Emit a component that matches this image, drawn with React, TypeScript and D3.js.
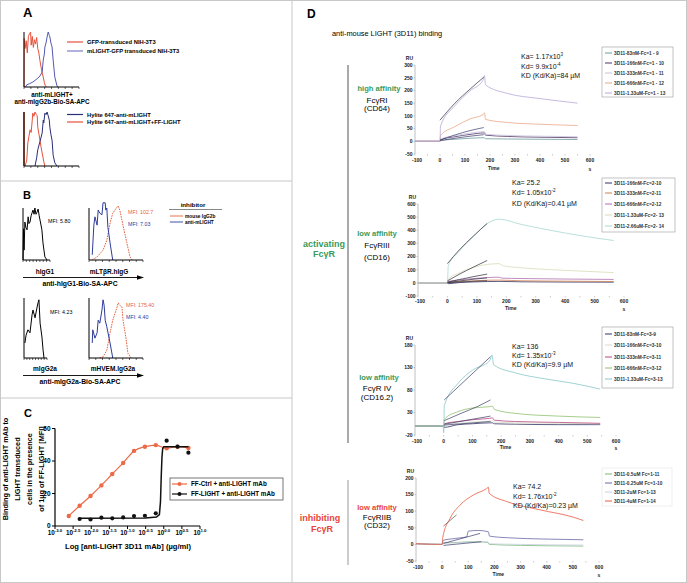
import React from 'react';
import * as d3 from 'd3';

const FONT = '"Liberation Sans", Arial, Helvetica, sans-serif';
const GREEN = '#3a9a5c';
const RED = '#e8453c';
const GRID = '#c8c8c8';

// ---------- Panel A ----------
const aLegend1 = ['GFP-transduced NIH-3T3', 'mLIGHT-GFP transduced NIH-3T3'];
const aLegend2 = ['Hylite 647-anti-mLIGHT', 'Hylite 647-anti-mLIGHT+FF-LIGHT'];
const aHist1Red = [[0,0],[0.3,88],[2,70],[4,84],[6,62],[8,92],[10,97],[12,100],[13,76],[15,92],[17,72],[19,86],[21,78],[23,90],[25,70],[27,62],[29,48],[31,36],[33,26],[35,18],[37,8],[39,2],[41,0]];
const aHist1Blue = [[3,0],[5,4],[10,6],[16,9],[20,12],[25,16],[29,20],[33,27],[35,49],[37,60],[38,73],[40,80],[42,91],[44,100],[46,94],[47,91],[49,80],[51,73],[53,49],[56,18],[60,2],[62,0]];
const aHist2Red = [[2,0],[5,11],[7,43],[9,55],[11,67],[13,62],[15,85],[16,98],[18,92],[20,100],[22,96],[24,93],[25,72],[27,60],[29,48],[31,35],[33,24],[36,8],[38,0]];
const aHist2Blue = [[20,0],[23,15],[25,30],[29,45],[33,61],[35,85],[36,80],[38,98],[40,95],[42,100],[44,93],[46,85],[47,72],[49,58],[51,48],[53,20],[56,6],[60,0]];

// ---------- Panel B ----------
const bInhibitor = ['mouse IgG2b', 'anti-mLIGHT'];
const bHIgG1 = [[0,0],[2,60],[4,19],[7,73],[11,62],[15,58],[19,83],[22,70],[26,73],[30,85],[33,90],[37,96],[41,88],[44,100],[48,88],[52,92],[56,98],[60,85],[63,77],[70,58],[74,33],[81,6],[89,0]];
const bLtbrBlue = [[6,10],[9,67],[11,83],[15,67],[17,96],[20,90],[24,87],[26,110],[30,110],[31,96],[33,100],[35,63],[39,33],[43,6],[44,0]];
const bLtbrRed = [[6,0],[15,6],[26,19],[33,38],[39,71],[44,90],[52,102],[54,104],[57,96],[63,67],[70,33],[76,6],[80,0]];
const bMIgG2a = [[4,25],[9,38],[17,47],[26,42],[35,72],[39,80],[48,67],[57,85],[61,92],[65,97],[70,58],[78,35],[83,13],[87,0]];
const bHvemBlue = [[6,25],[7,47],[11,33],[15,42],[17,63],[20,58],[24,80],[26,97],[28,88],[30,63],[33,52],[39,25],[43,5],[44,0]];
const bHvemRed = [[20,0],[26,2],[33,13],[39,42],[44,63],[52,85],[54,92],[57,88],[61,85],[63,63],[69,30],[72,8],[78,0]];
const bMfi = ['MFI: 5.80', 'MFI: 102.7', 'MFI: 7.03', 'MFI: 4.23', 'MFI: 175.40', 'MFI: 4.40'];

// ---------- Panel C ----------
const cCtrlLog = [-2.62,-2.32,-2.02,-1.72,-1.42,-1.12,-0.82,-0.52,-0.22,0.08,0.38,0.68];
const cCtrl = [6.2,12.5,18.5,25,32,38.8,46.2,48.8,49.8,47.8,48.8,48];
const cLightLog = [-2.32,-2.02,-1.72,-1.42,-1.12,-0.82,-0.52,-0.22,0.08,0.38,0.68];
const cLight = [4.3,4.0,5.1,4.7,5.3,6.1,6.3,7.8,52.5,48.8,45.1];
const cLightFitLog = [-2.32,-0.5,-0.2,-0.12,-0.09,-0.07,-0.05,-0.03,0,0.68];
const cLightFit = [4.8,4.9,5.5,7,15,30,42,47.5,48.8,48.8];
const cXTicks = [-3,-2.5,-2,-1.5,-1,-0.5,0,0.5,1];
const cXTickLabels = ['-3.0','-2.5','-2.0','-1.5','-1.0','-0.5','0.0','0.5','1.0'];
const cYTicks = [0,20,40,60];
const cLegend = ['FF-Ctrl + anti-LIGHT mAb', 'FF-LIGHT + anti-LIGHT mAb'];
const cYLabel = ['Binding of anti-LIGHT mAb to', 'LIGHT transduced', 'cells in the presence', 'of 1µg of FF-LIGHT [MFI]'];

// ---------- Panel D ----------
const timeTicks = [-100,0,100,200,300,400,500,600];
const s1YTicks = [-50,0,50,100,150,200,250,300];
const s2YTicks = [-100,0,100,200,300,400,500,600];
const s3YTicks = [-20,30,80,130,180];
const s4YTicks = [-50,0,50,100,150,200];

const s1Legend = ['3D11-83nM-Fc=1 - 9','3D11-166nM-Fc=1 - 10','3D11-333nM-Fc=1 - 11','3D11-666nM-Fc=1 - 12','3D11-1.33uM-Fc=1 - 13'];
const s2Legend = ['3D11-166nM-Fc=2-10','3D11-333nM-Fc=2-11','3D11-666nM-Fc=2-12','3D11-1.33uM-Fc=2- 13','3D11-2.66uM-Fc=2- 14'];
const s3Legend = ['3D11-83nM-Fc=3-9','3D11-166nM-Fc=3-10','3D11-333nM-Fc=3-11','3D11-666nM-Fc=3-12','3D11-1.33uM-Fc=3-13'];
const s4Legend = ['3D11-0.5uM Fc=1-11','3D11-0.25uM Fc=1-10','3D11-2uM Fc=1-13','3D11-4uM Fc=1-14'];

const s1Colors = ['#6a9a9a','#553366','#c4c4dc','#e8a888','#b8a8d8'];
const s2Colors = ['#333366','#d08050','#b070b0','#d8dcb8','#a8d8d0'];
const s3Colors = ['#333366','#d4dcc8','#b84880','#90c070','#88c8c8'];
const s4Colors = ['#78b878','#6868a8','#c8d0e0','#e85a40'];

const s1Kin = [['Ka= 1.17x10','3'],['Kd= 9.9x10','-4'],['KD (Kd/Ka)=84 µM','']];
const s2Kin = [['Ka= 25.2',''],['Kd= 1.05x10','-2'],['KD (Kd/Ka)=0.41 µM','']];
const s3Kin = [['Ka= 136',''],['Kd= 1.35x10','-3'],['KD (Kd/Ka)=9.9 µM','']];
const s4Kin = [['Ka= 74.2',''],['Kd= 1.76x10','-2'],['KD (Kd/Ka)=0.23 µM','']];

// sensorgram 1 (FcgRI)
const s1c1 = [[-100,0],[0,0],[2,3],[60,8],[120,12],[178,14],[182,10],[270,9],[400,8],[550,7]];
const s1c2 = [[-100,0],[0,0],[2,6],[60,18],[120,27],[178,33],[182,24],[270,19],[400,16],[550,14]];
const s1c3 = [[-100,0],[0,0],[2,8],[60,22],[120,32],[178,38],[182,28],[270,23],[400,20],[550,18]];
const s1c4 = [[-100,0],[0,0],[2,22],[60,58],[120,88],[172,105],[178,112],[182,86],[270,74],[400,67],[550,62]];
const s1c5 = [[-100,0],[0,0],[2,60],[60,140],[120,198],[172,240],[178,258],[182,222],[270,188],[400,168],[550,150]];
const s1f5 = [[0,83],[60,150],[120,205],[175,252]];
const s1f3 = [[0,5],[60,25],[120,42],[175,54]];
const s1f2 = [[0,3],[60,12],[120,20],[175,26]];

// sensorgram 2 (FcgRIII)
const s2c1 = [[-100,0],[0,0],[3,-6],[40,2],[90,7],[135,10],[175,11],[250,8],[400,6],[565,5]];
const s2c2 = [[-100,0],[0,0],[3,4],[40,10],[90,16],[135,20],[175,21],[250,16],[400,13],[565,10]];
const s2c3 = [[-100,0],[0,0],[3,10],[40,22],[90,33],[135,40],[175,43],[185,36],[250,33],[400,29],[565,26]];
const s2c4 = [[-100,0],[0,0],[3,25],[40,75],[90,118],[135,140],[175,146],[190,130],[250,115],[400,95],[565,78]];
const s2c5 = [[-100,0],[0,0],[3,130],[40,240],[90,355],[135,450],[175,485],[250,445],[350,400],[450,360],[565,322]];
const s2f5 = [[0,146],[40,250],[90,360],[135,452]];
const s2f4 = [[0,15],[40,65],[90,122],[135,170]];
const s2f3 = [[0,5],[40,25],[90,48],[135,67]];
const s2f2 = [[0,2],[40,14],[90,28],[135,38]];
const s2f1 = [[0,0],[40,6],[90,12],[135,16]];

// sensorgram 3 (FcgRIV)
const s3c1 = [[-100,0],[0,0],[2,-3],[50,3],[100,5],[160,7],[170,7],[176,5],[250,4],[400,3],[545,3]];
const s3c2 = [[-100,0],[0,0],[2,3],[50,6],[100,9],[160,11],[170,12],[176,9],[250,7],[400,6],[545,5]];
const s3c3 = [[-100,0],[0,0],[2,5],[50,10],[100,14],[160,17],[170,18],[176,13],[250,10],[400,8],[545,6]];
const s3c4 = [[-100,0],[0,0],[2,15],[50,32],[100,40],[160,43],[170,44],[176,37],[250,28],[400,22],[545,19]];
const s3c5 = [[-100,0],[-2,0],[0,-15],[2,45],[50,95],[100,124],[160,145],[168,158],[174,136],[250,118],[350,105],[450,95],[545,82]];
const s3f5 = [[2,58],[163,154]];
const s3f4 = [[2,12],[60,28],[120,44],[163,58]];
const s3f3 = [[2,4],[163,22]];
const s3f2 = [[2,2],[163,10]];

// sensorgram 4 (FcgRIIB)
const s4c1 = [[-100,2],[0,0],[3,5],[60,6],[120,8],[175,6],[180,0],[300,-3],[540,-5]];
const s4c2 = [[-100,2],[0,0],[3,12],[50,18],[94,23],[100,40],[140,42],[177,38],[181,25],[250,20],[400,16],[540,14]];
const s4c3 = [[-100,2],[0,0],[3,3],[60,5],[120,7],[175,8],[180,2],[300,0],[540,-2]];
const s4c4 = [[-100,2],[0,0],[2,20],[30,78],[68,118],[120,149],[170,168],[177,172],[180,154],[247,129],[375,104],[502,82],[540,72]];
const s4f4 = [[5,55],[55,89]];
const s4f2 = [[5,3],[145,33]];
const s4f1 = [[5,-3],[150,8]];

type Pts = number[][];

function Hist({ x0, y0, w, h, series, axisColor = '#000', axisW = 1 }: any) {
  const xs = d3.scaleLinear().domain([0, 100]).range([x0, x0 + w]);
  const ys = d3.scaleLinear().domain([0, 100]).range([y0, y0 - h]);
  const line = d3.line<number[]>().x(d => xs(d[0])).y(d => ys(d[1]));
  const ticks = d3.range(0, 100.01, 12.5);
  return (
    <g>
      {series.map((s: any, i: number) => (
        <path key={i} d={line(s.data) || ''} fill="none" stroke={s.color} strokeWidth={s.w ?? 1} strokeDasharray={s.dash} />
      ))}
      <line x1={x0} y1={y0 - h} x2={x0} y2={y0} stroke={axisColor} strokeWidth={axisW} />
      <line x1={x0} y1={y0} x2={x0 + w} y2={y0} stroke="#000" strokeWidth={1} />
      {ticks.map(t => <line key={t} x1={xs(t)} x2={xs(t)} y1={y0} y2={y0 + 2} stroke="#000" strokeWidth={0.6} />)}
    </g>
  );
}

function Sensor({ cfg }: any) {
  const xs = d3.scaleLinear().domain([-100, 600]).range(cfg.xr);
  const ys = d3.scaleLinear().domain(cfg.yd).range(cfg.yr);
  const line = d3.line<number[]>().x(d => xs(d[0])).y(d => ys(d[1])).curve(d3.curveMonotoneX);
  const ax = cfg.xr[0];
  const minor = d3.range(-100, 601, 50);
  return (
    <g>
      <line x1={ax} x2={ax} y1={cfg.yr[0]} y2={cfg.yr[1]} stroke="#b0b0b0" strokeWidth={0.8} />
      {cfg.yTicks.map((t: number) => (
        <g key={t}>
          <line x1={ax - 1.5} x2={ax} y1={ys(t)} y2={ys(t)} stroke="#999" strokeWidth={0.5} />
          <text x={ax - 2.5} y={ys(t) + 1.8} fontSize={5} fontWeight="bold" textAnchor="end" fill="#222">{t}</text>
        </g>
      ))}
      <text x={ax - 2} y={cfg.yr[1] - 5} fontSize={5} fontWeight="bold" textAnchor="end" fill="#222">RU</text>
      {minor.map(t => <line key={t} x1={xs(t)} x2={xs(t)} y1={cfg.yr[0]} y2={cfg.yr[0] + 1.5} stroke="#999" strokeWidth={0.5} />)}
      {timeTicks.map(t => (
        <text key={t} x={xs(t) + (t === -100 ? 2 : 0)} y={cfg.labY} fontSize={5} fontWeight="bold" textAnchor="middle" fill="#222">{t}</text>
      ))}
      <text x={xs(215)} y={cfg.timeY} fontSize={5} fontWeight="bold" textAnchor="middle" fill="#222">Time</text>
      <text x={xs(600)} y={cfg.timeY + 1} fontSize={5} fontWeight="bold" textAnchor="middle" fill="#222">s</text>
      {cfg.series.map((s: Pts, i: number) => (
        <path key={i} d={line(s) || ''} fill="none" stroke={cfg.colors[i]} strokeWidth={0.8} />
      ))}
      {cfg.fits.map((f: any, i: number) => (
        <path key={'f' + i} d={line(f.pts) || ''} fill="none" stroke={f.color} strokeWidth={0.7} />
      ))}
      {cfg.kin.map((k: string[], i: number) => (
        <text key={'k' + i} x={cfg.kinX} y={cfg.kinY[i]} fontSize={7} fill="#111">
          {k[0]}{k[1] ? <tspan dy={-3} fontSize={4.5}>{k[1]}</tspan> : null}
        </text>
      ))}
      <rect x={cfg.legBox[0]} y={cfg.legBox[1]} width={cfg.legBox[2]} height={cfg.legBox[3]} fill="#fff" stroke={cfg.legStroke} strokeWidth={0.6} />
      {cfg.legText.map((t: string, i: number) => (
        <g key={'l' + i}>
          <line x1={605} x2={612} y1={cfg.legY[i]} y2={cfg.legY[i]} stroke={cfg.colors[i]} strokeWidth={1} />
          <text x={614} y={cfg.legY[i] + 1.7} fontSize={4.8} fontWeight="bold" fill="#333">{t}</text>
        </g>
      ))}
    </g>
  );
}

const FIT = '#2a2a3a';

export default function App() {
  const cx = d3.scaleLinear().domain([-3, 1]).range([55, 200]);
  const cy = d3.scaleLinear().domain([0, 60]).range([526, 428.5]);
  const cLine = d3.line<number[]>().x(d => cx(d[0])).y(d => cy(d[1])).curve(d3.curveMonotoneX);
  const ctrlPts = cCtrlLog.map((l, i) => [l, cCtrl[i]]);
  const lightPts = cLightLog.map((l, i) => [l, cLight[i]]);
  const lightFitPts = cLightFitLog.map((l, i) => [l, cLightFit[i]]);
  const C_RED = '#ec6a47';

  const s1 = { xr: [415, 590], yd: [-50, 300], yr: [154, 65], yTicks: s1YTicks, labY: 162, timeY: 170,
    kin: s1Kin, kinX: 521, kinY: [59, 69, 78], legBox: [602, 47, 71, 50], legY: [53, 63, 73, 83, 93], legText: s1Legend,
    legStroke: '#999', colors: s1Colors, series: [s1c1, s1c2, s1c3, s1c4, s1c5],
    fits: [{ pts: s1f5, color: FIT }, { pts: s1f3, color: '#3a3a6a' }, { pts: s1f2, color: '#3a3a6a' }] };
  const s2 = { xr: [418, 624], yd: [-100, 600], yr: [296, 204], yTicks: s2YTicks, labY: 303, timeY: 310,
    kin: s2Kin, kinX: 512, kinY: [185, 195, 206], legBox: [602, 178, 73, 54], legY: [183, 193, 204, 215, 226], legText: s2Legend,
    legStroke: '#999', colors: s2Colors, series: [s2c1, s2c2, s2c3, s2c4, s2c5],
    fits: [{ pts: s2f5, color: FIT }, { pts: s2f4, color: FIT }, { pts: s2f3, color: FIT }, { pts: s2f2, color: FIT }, { pts: s2f1, color: FIT }] };
  const s3 = { xr: [415, 616], yd: [-20, 180], yr: [435, 345], yTicks: s3YTicks, labY: 442.5, timeY: 449,
    kin: s3Kin, kinX: 512, kinY: [349, 358, 367], legBox: [602, 327, 71, 61], legY: [334, 345, 357, 368, 379], legText: s3Legend,
    legStroke: '#999', colors: s3Colors, series: [s3c1, s3c2, s3c3, s3c4, s3c5],
    fits: [{ pts: s3f5, color: '#3b3b66' }, { pts: s3f4, color: '#3b3b66' }, { pts: s3f3, color: '#3b3b66' }, { pts: s3f2, color: '#3b3b66' }] };
  const s4 = { xr: [416, 599], yd: [-50, 200], yr: [561, 478], yTicks: s4YTicks, labY: 568.5, timeY: 575.5,
    kin: s4Kin, kinX: 513, kinY: [489, 499, 508], legBox: [602, 468, 70, 38], legY: [474, 483, 492, 501], legText: s4Legend,
    legStroke: '#e4e4e4', colors: s4Colors, series: [s4c1, s4c2, s4c3, s4c4],
    fits: [{ pts: s4f4, color: '#555' }, { pts: s4f2, color: '#3a3a6a' }, { pts: s4f1, color: '#3a3a6a' }] };

  const A_RED = '#e8503a';
  const A_BLUE = '#5558b0';
  const NAVY = '#2b2f7a';
  const B_BLUE = '#2e3c9a';

  return (
    <svg width={687} height={583} viewBox="0 0 687 583" fontFamily={FONT}
      style={{ display: 'block', position: 'absolute', left: 0, top: 0, background: '#fff' }}>
      <rect x={0.5} y={0.5} width={686} height={582} fill="#fff" stroke={GRID} strokeWidth={1} />
      <line x1={292} x2={292} y1={0} y2={583} stroke={GRID} strokeWidth={1} />
      <line x1={0} x2={292} y1={181} y2={181} stroke={GRID} strokeWidth={1} />
      <line x1={0} x2={292} y1={398} y2={398} stroke={GRID} strokeWidth={1} />

      {/* ---------- Panel A ---------- */}
      <text x={23} y={17} fontSize={13} fontWeight="bold">A</text>
      <Hist x0={24} y0={87} w={55} h={55} series={[{ data: aHist1Red, color: A_RED }, { data: aHist1Blue, color: A_BLUE }]} />
      <text x={52} y={97} fontSize={6.3} fontWeight="bold" textAnchor="middle">anti-mLIGHT+</text>
      <text x={52} y={103.5} fontSize={6.3} fontWeight="bold" textAnchor="middle">anti-mIgG2b-Bio-SA-APC</text>
      {[A_RED, '#7c7cc8'].map((c, i) => (
        <g key={i}>
          <line x1={67} x2={83} y1={42 + i * 9} y2={42 + i * 9} stroke={c} strokeWidth={1.2} />
          <text x={87} y={44 + i * 9} fontSize={5.8} fontWeight="bold">{aLegend1[i]}</text>
        </g>
      ))}
      <Hist x0={24} y0={166} w={55} h={54} axisColor="#5a2418" axisW={1.8}
        series={[{ data: aHist2Red, color: A_RED }, { data: aHist2Blue, color: NAVY }]} />
      {[NAVY, A_RED].map((c, i) => (
        <g key={i}>
          <line x1={67} x2={83} y1={114.5 + i * 7.5} y2={114.5 + i * 7.5} stroke={c} strokeWidth={1.2} />
          <text x={87} y={116.5 + i * 7.5} fontSize={5.8} fontWeight="bold">{aLegend2[i]}</text>
        </g>
      ))}

      {/* ---------- Panel B ---------- */}
      <text x={23} y={199} fontSize={11} fontWeight="bold">B</text>
      <Hist x0={23} y0={260} w={27} h={52} series={[{ data: bHIgG1, color: '#000' }]} />
      <Hist x0={89} y0={260} w={54} h={52} series={[{ data: bLtbrRed, color: '#e8603c', dash: '1.6,1' }, { data: bLtbrBlue, color: B_BLUE }]} />
      <text x={48} y={223} fontSize={5.3}>{bMfi[0]}</text>
      <text x={128} y={214} fontSize={5.3} fill="#e8603c">{bMfi[1]}</text>
      <text x={128} y={226} fontSize={5.3} fill={B_BLUE}>{bMfi[2]}</text>
      <text x={45} y={274} fontSize={6.5} fontWeight="bold" textAnchor="middle">hIgG1</text>
      <text x={109} y={274} fontSize={6.5} fontWeight="bold" textAnchor="middle">mLTβR.hIgG</text>
      <line x1={23} x2={139} y1={277.5} y2={277.5} stroke="#000" strokeWidth={0.9} />
      <polygon points="144,277.5 137,275.3 137,279.7" fill="#000" />
      <text x={80} y={286} fontSize={6.8} fontWeight="bold" textAnchor="middle">anti-hIgG1-Bio-SA-APC</text>

      <text x={193} y={206.5} fontSize={6.2} fontWeight="bold" textAnchor="middle">inhibitor</text>
      <line x1={169} x2={222} y1={209.5} y2={209.5} stroke="#888" strokeWidth={1.2} />
      {['#e8603c', B_BLUE].map((c, i) => (
        <g key={i}>
          <line x1={170} x2={183} y1={216 + i * 6} y2={216 + i * 6} stroke={c} strokeWidth={0.9} />
          <text x={185} y={218 + i * 6} fontSize={4.8} fontWeight="bold">{bInhibitor[i]}</text>
        </g>
      ))}

      <Hist x0={24} y0={358} w={23} h={60} series={[{ data: bMIgG2a, color: '#000' }]} />
      <Hist x0={89} y0={358} w={54} h={60} series={[{ data: bHvemRed, color: '#e8603c', dash: '1.6,1' }, { data: bHvemBlue, color: B_BLUE }]} />
      <text x={50} y={314} fontSize={5.3}>{bMfi[3]}</text>
      <text x={126} y={307} fontSize={5.3} fill="#e8603c">{bMfi[4]}</text>
      <text x={126} y={319} fontSize={5.3} fill={B_BLUE}>{bMfi[5]}</text>
      <text x={45} y={371} fontSize={6.5} fontWeight="bold" textAnchor="middle">mIgG2a</text>
      <text x={113} y={371} fontSize={6.5} fontWeight="bold" textAnchor="middle">mHVEM.IgG2a</text>
      <line x1={23} x2={139} y1={375.5} y2={375.5} stroke="#000" strokeWidth={0.9} />
      <polygon points="144,375.5 137,373.3 137,377.7" fill="#000" />
      <text x={80} y={384} fontSize={6.8} fontWeight="bold" textAnchor="middle">anti-mIgG2a-Bio-SA-APC</text>

      {/* ---------- Panel C ---------- */}
      <text x={24} y={417} fontSize={11} fontWeight="bold">C</text>
      {cYLabel.map((t, i) => (
        <text key={i} transform={`translate(${8 + i * 12},469) rotate(-90)`} fontSize={7.3} fontWeight="bold" textAnchor="middle">{t}</text>
      ))}
      <line x1={55} x2={55} y1={cy(60)} y2={cy(0)} stroke="#000" strokeWidth={1.2} />
      <line x1={55} x2={200} y1={cy(0)} y2={cy(0)} stroke="#000" strokeWidth={1.2} />
      {cYTicks.map(t => (
        <g key={t}>
          <line x1={52} x2={55} y1={cy(t)} y2={cy(t)} stroke="#000" strokeWidth={1} />
          <text x={50.5} y={cy(t) + 2.3} fontSize={6.5} fontWeight="bold" textAnchor="end">{t}</text>
        </g>
      ))}
      {cXTicks.map((t, i) => (
        <g key={t}>
          <line x1={cx(t)} x2={cx(t)} y1={526} y2={529} stroke="#000" strokeWidth={1} />
          <text x={cx(t)} y={535} fontSize={6.3} fontWeight="bold" textAnchor="middle">10<tspan dy={-2.8} fontSize={4.3}>{cXTickLabels[i]}</tspan></text>
        </g>
      ))}
      <text x={128} y={549} fontSize={7.6} fontWeight="bold" textAnchor="middle">Log [anti-LIGHT 3D11 mAb] (µg/ml)</text>
      <path d={cLine(ctrlPts) || ''} fill="none" stroke={C_RED} strokeWidth={1.2} />
      {ctrlPts.map((p, i) => <circle key={i} cx={cx(p[0])} cy={cy(p[1])} r={2.2} fill={C_RED} />)}
      <path d={d3.line<number[]>().x(d => cx(d[0])).y(d => cy(d[1]))(lightFitPts) || ''} fill="none" stroke="#111" strokeWidth={1.5} />
      {lightPts.map((p, i) => <circle key={i} cx={cx(p[0])} cy={cy(p[1])} r={2.1} fill="#111" />)}
      <rect x={170} y={478} width={113} height={22} fill="#fff" stroke="#555" strokeWidth={0.8} />
      {[C_RED, '#111'].map((c, i) => (
        <g key={i}>
          <line x1={172} x2={187} y1={484 + i * 10} y2={484 + i * 10} stroke={c} strokeWidth={1.2} />
          <circle cx={179.5} cy={484 + i * 10} r={2} fill={c} />
          <text x={191} y={486.3 + i * 10} fontSize={6.3} fontWeight="bold">{cLegend[i]}</text>
        </g>
      ))}

      {/* ---------- Panel D ---------- */}
      <text x={307} y={18} fontSize={12} fontWeight="bold">D</text>
      <text x={332} y={36} fontSize={7.4}>anti-mouse LIGHT (3D11) binding</text>
      <line x1={348} x2={348} y1={65} y2={443} stroke="#555" strokeWidth={1} />
      <line x1={348} x2={348} y1={480} y2={565} stroke="#999" strokeWidth={1} />
      <text x={324} y={246.5} fontSize={9} fontWeight="bold" fill={GREEN} textAnchor="middle">activating</text>
      <text x={324} y={257} fontSize={9} fontWeight="bold" fill={GREEN} textAnchor="middle">FcγR</text>
      <text x={320} y={521} fontSize={9} fontWeight="bold" fill={RED} textAnchor="middle">inhibiting</text>
      <text x={322} y={532} fontSize={9} fontWeight="bold" fill={RED} textAnchor="middle">FcγR</text>

      <text x={379} y={90.5} fontSize={7.6} fontWeight="bold" fill={GREEN} textAnchor="middle">high affinity</text>
      <text x={377} y={102.5} fontSize={8} textAnchor="middle">FcγRI</text>
      <text x={377} y={110.5} fontSize={8} textAnchor="middle">(CD64)</text>

      <text x={377} y={235.5} fontSize={7.6} fontWeight="bold" fill={GREEN} textAnchor="middle">low affinity</text>
      <text x={377} y={248} fontSize={8} textAnchor="middle">FcγRIII</text>
      <text x={377} y={260} fontSize={8} textAnchor="middle">(CD16)</text>

      <text x={379} y={380} fontSize={7.6} fontWeight="bold" fill={GREEN} textAnchor="middle">low affinity</text>
      <text x={377} y={391} fontSize={8} textAnchor="middle">FcγR IV</text>
      <text x={377} y={400} fontSize={8} textAnchor="middle">(CD16.2)</text>

      <text x={377} y={510} fontSize={7.6} fontWeight="bold" fill={RED} textAnchor="middle">low affinity</text>
      <text x={377} y={519.5} fontSize={8} textAnchor="middle">FcγRIIB</text>
      <text x={377} y={528} fontSize={8} textAnchor="middle">(CD32)</text>

      <Sensor cfg={s1} />
      <Sensor cfg={s2} />
      <Sensor cfg={s3} />
      <Sensor cfg={s4} />
    </svg>
  );
}
